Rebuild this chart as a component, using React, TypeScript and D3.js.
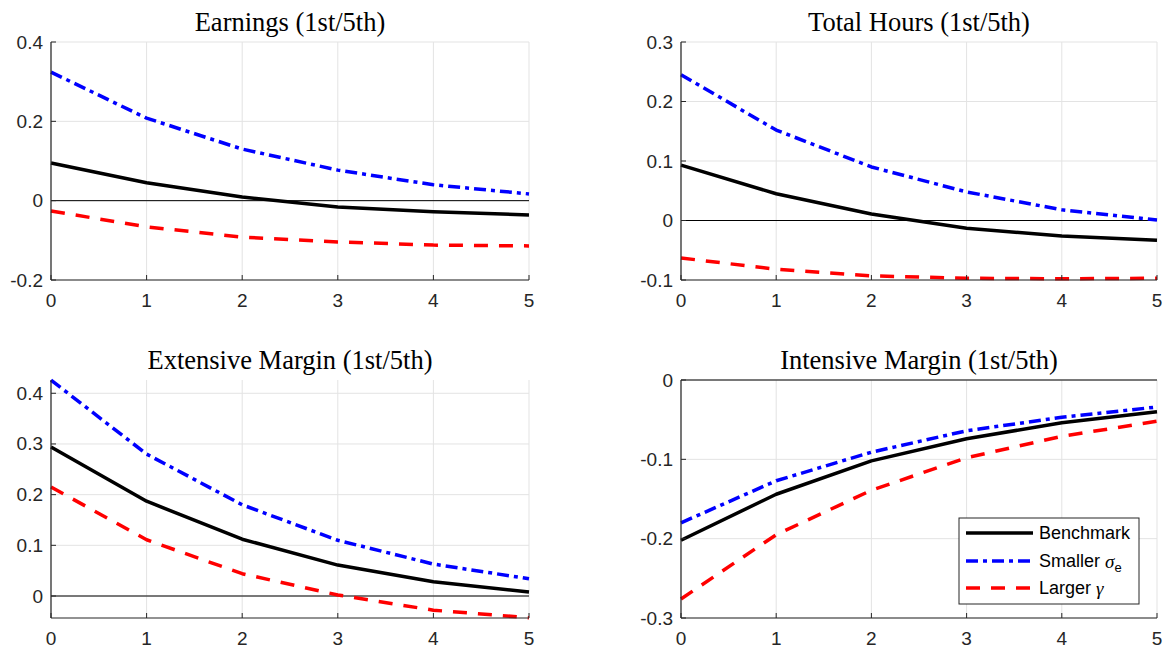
import * as d3 from "d3"

// horizon (years after the shock)
const steps = [0, 1, 2, 3, 4, 5]

// Earnings (1st/5th)
const earnBench = [0.095, 0.045, 0.009, -0.016, -0.028, -0.036]
const earnSmall = [0.324, 0.208, 0.130, 0.077, 0.040, 0.017]
const earnLarge = [-0.026, -0.066, -0.092, -0.104, -0.112, -0.114]

// Total Hours (1st/5th)
const hoursBench = [0.093, 0.045, 0.011, -0.013, -0.026, -0.033]
const hoursSmall = [0.245, 0.152, 0.090, 0.048, 0.018, 0.001]
const hoursLarge = [-0.063, -0.082, -0.093, -0.097, -0.098, -0.097]

// Extensive Margin (1st/5th)
const extBench = [0.294, 0.187, 0.112, 0.061, 0.028, 0.008]
const extSmall = [0.426, 0.280, 0.180, 0.110, 0.063, 0.034]
const extLarge = [0.215, 0.111, 0.044, 0.002, -0.028, -0.043]

// Intensive Margin (1st/5th)
const intBench = [-0.202, -0.144, -0.102, -0.074, -0.054, -0.040]
const intSmall = [-0.180, -0.127, -0.091, -0.064, -0.047, -0.034]
const intLarge = [-0.276, -0.195, -0.139, -0.098, -0.071, -0.052]

const titles = ["Earnings (1st/5th)", "Total Hours (1st/5th)", "Extensive Margin (1st/5th)", "Intensive Margin (1st/5th)"]
const yDomains = [[-0.2, 0.4], [-0.1, 0.3], [-0.0434, 0.4262], [-0.3, 0]]
const yTicks = [[-0.2, 0, 0.2, 0.4], [-0.1, 0, 0.1, 0.2, 0.3], [0, 0.1, 0.2, 0.3, 0.4], [-0.3, -0.2, -0.1, 0]]
const seriesSets = [
  [earnBench, earnSmall, earnLarge],
  [hoursBench, hoursSmall, hoursLarge],
  [extBench, extSmall, extLarge],
  [intBench, intSmall, intLarge],
]

// layout
const boxes = [
  { left: 51, right: 529, top: 42, bottom: 280 },
  { left: 681, right: 1157, top: 42, bottom: 280 },
  { left: 51, right: 529, top: 380, bottom: 618 },
  { left: 681, right: 1157, top: 380, bottom: 618 },
]

const styles = [
  { color: "#000000", dash: null },
  { color: "#0000ff", dash: "12,5,4,5" },
  { color: "#ff0000", dash: "14,11" },
]

const axisColor = "#262626"
const gridColor = "#e3e3e3"
const sans = "'Liberation Sans', Arial, sans-serif"
const serif = "'Liberation Serif', 'Times New Roman', serif"

const fmt = (v: number) => String(+v.toFixed(2))

const Panel = ({ i }: { i: number }) => {
  const b = boxes[i]
  const x = d3.scaleLinear().domain([0, 5]).range([b.left, b.right])
  const y = d3.scaleLinear().domain(yDomains[i]).range([b.bottom, b.top])
  const line = d3.line<number>().x((d, k) => x(steps[k])).y(d => y(d))
  const tickLen = 5

  return (
    <g>
      {/* grid */}
      {steps.map(s => (
        <line key={"gx" + s} x1={x(s)} x2={x(s)} y1={b.top} y2={b.bottom} stroke={gridColor} strokeWidth={1} />
      ))}
      {yTicks[i].map(t => (
        <line key={"gy" + t} x1={b.left} x2={b.right} y1={y(t)} y2={y(t)} stroke={gridColor} strokeWidth={1} />
      ))}
      {/* zero line */}
      <line x1={b.left} x2={b.right} y1={y(0)} y2={y(0)} stroke="#000" strokeWidth={1} />
      {/* series */}
      {seriesSets[i].map((vals, k) => (
        <path key={"s" + k} d={line(vals) || ""} fill="none" stroke={styles[k].color}
          strokeWidth={3.5} strokeDasharray={styles[k].dash || undefined} strokeLinejoin="round" />
      ))}
      {/* axes */}
      <line x1={b.left} x2={b.left} y1={b.top} y2={b.bottom} stroke={axisColor} strokeWidth={1.2} />
      <line x1={b.left} x2={b.right} y1={b.bottom} y2={b.bottom} stroke={axisColor} strokeWidth={1.2} />
      {yTicks[i].map(t => (
        <g key={"ty" + t}>
          <line x1={b.left} x2={b.left + tickLen} y1={y(t)} y2={y(t)} stroke={axisColor} strokeWidth={1} />
          <text x={b.left - 8} y={y(t)} textAnchor="end" dominantBaseline="central"
            fontFamily={sans} fontSize={19} fill={axisColor}>{fmt(t)}</text>
        </g>
      ))}
      {steps.map(s => (
        <g key={"tx" + s}>
          <line x1={x(s)} x2={x(s)} y1={b.bottom} y2={b.bottom - tickLen} stroke={axisColor} strokeWidth={1} />
          <text x={x(s)} y={b.bottom + 27} textAnchor="middle"
            fontFamily={sans} fontSize={19} fill={axisColor}>{s}</text>
        </g>
      ))}
      <text x={(b.left + b.right) / 2} y={b.top - 11} textAnchor="middle"
        fontFamily={serif} fontSize={26.5} fill="#000">{titles[i]}</text>
    </g>
  )
}

const Legend = () => {
  const lx = 959, ly = 518, lw = 180, lh = 86
  const rows = [533, 561, 588]
  return (
    <g>
      <rect x={lx} y={ly} width={lw} height={lh} fill="#fff" stroke={axisColor} strokeWidth={1} />
      {rows.map((ry, k) => (
        <line key={k} x1={966} x2={1033} y1={ry} y2={ry} stroke={styles[k].color} strokeWidth={3.5}
          strokeDasharray={styles[k].dash || undefined} />
      ))}
      <text x={1039} y={rows[0]} dominantBaseline="central" fontFamily={sans} fontSize={18} fill="#000">Benchmark</text>
      <text x={1039} y={rows[1]} dominantBaseline="central" fontFamily={sans} fontSize={18} fill="#000">
        Smaller <tspan fontFamily={serif} fontStyle="italic" fontSize={19}>σ</tspan>
        <tspan fontSize={13} dy={6}>e</tspan>
      </text>
      <text x={1039} y={rows[2]} dominantBaseline="central" fontFamily={sans} fontSize={18} fill="#000">
        Larger <tspan fontFamily={serif} fontStyle="italic" fontSize={19}>γ</tspan>
      </text>
    </g>
  )
}

export default function App() {
  return (
    <div style={{ position: "fixed", left: 0, top: 0, background: "#fff" }}>
      <svg width={1164} height={649} viewBox="0 0 1164 649" style={{ display: "block" }}>
        <rect x={0} y={0} width={1164} height={649} fill="#fff" />
        {[0, 1, 2, 3].map(i => <Panel key={i} i={i} />)}
        <Legend />
      </svg>
    </div>
  )
}
